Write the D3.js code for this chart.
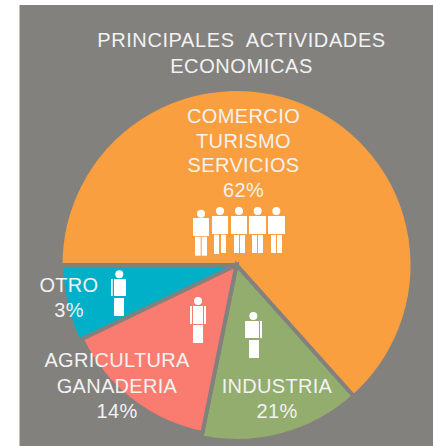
<!DOCTYPE html>
<html><head><meta charset="utf-8">
<script src="https://cdn.jsdelivr.net/npm/d3@7"></script>
<style>html,body{margin:0;background:#fff}svg{display:block}text{font-family:"Liberation Sans",Arial,sans-serif}</style>
</head><body><svg id="c" width="433" height="446"></svg>
<script>
const titleLines = ["PRINCIPALES  ACTIVIDADES", "ECONOMICAS"];
const categories = ["COMERCIO TURISMO SERVICIOS", "INDUSTRIA", "AGRICULTURA GANADERIA", "OTRO"];
const sweepShares = [63.4, 14.8, 14.7, 7.1];
const printedPercent = ["62%", "21%", "14%", "3%"];
const colors = ["#fa9f3f", "#92ad6d", "#fa7c70", "#00b0c8"];
const sliceRadii = [176, 176, 171.5, 175];

const svg = d3.select("#c");
const ink = "#f2f2f2", bg = "#83817e";
svg.append("rect").attr("x", 19.5).attr("y", 5).attr("width", 413.5).attr("height", 441).attr("fill", bg);

const cx = 236.5, cy = 265;
const pie = d3.pie().sort(null).startAngle(-Math.PI / 2).endAngle(1.5 * Math.PI).value(d => d);
const arc = d3.arc().innerRadius(0);
svg.append("g").attr("transform", `translate(${cx},${cy})`)
  .selectAll("path").data(pie(sweepShares)).join("path")
  .attr("d", (d, i) => arc.outerRadius(sliceRadii[i])(d)).attr("fill", (d, i) => colors[i])
  .attr("stroke", bg).attr("stroke-width", 4).attr("stroke-linejoin", "miter");

function label(lines, x, y0, size, spacing, dy, fill) {
  const t = svg.append("g");
  lines.forEach((s, i) => t.append("text").attr("x", x).attr("y", y0 + i * dy)
    .attr("text-anchor", "middle").attr("font-size", size)
    .attr("letter-spacing", spacing).attr("fill", fill || ink)
    .style("white-space", "pre").text(s));
}
label(titleLines, 241.5, 47, 20, 0.6, 26);
label(["COMERCIO", "TURISMO", "SERVICIOS", printedPercent[0]], 243.5, 123, 20, 0.4, 24.5);
label(["OTRO", printedPercent[3]], 69, 292, 20, 0.3, 25);
label(["AGRICULTURA", "GANADERIA", printedPercent[2]], 117, 367, 20, 0.3, 25.5);
label(["INDUSTRIA", printedPercent[1]], 277, 393, 20, 0.3, 25);

const people = [
  {h:[201,213.7],p:[[193,218,16,18],[195,236.7,5.7,19],[201.7,236.7,5.3,19]]},
  {h:[220,211],p:[[212,216,16,18],[214,234.7,5,19.3],[221,234.7,5,18.3]]},
  {h:[239,211],p:[[231,216,16,18],[234,235,5,18],[240,235,5,18]]},
  {h:[257.7,211],p:[[249,216,17,18],[252,235,5,18],[258,235,5,18]]},
  {h:[276.3,211],p:[[268,216,17,18],[271,235,5,18],[277,235,5,18]]},
  {h:[119.3,274.3],p:[[111,279,1.7,17],[114,279,12,17],[114,298,10,18]]},
  {h:[198,301],p:[[190,306,2,18],[193,306,10,18],[204,306,2,18],[193,325,10,18]]},
  {h:[253.3,316],p:[[245,321,14,17],[260,321,2,17],[249,340,10,18]]}
];
const g = svg.append("g").attr("fill", "#fff");
people.forEach(q => {
  g.append("circle").attr("cx", q.h[0]).attr("cy", q.h[1]).attr("r", 4);
  q.p.forEach(r => g.append("rect").attr("x", r[0]).attr("y", r[1]).attr("width", r[2]).attr("height", r[3]));
});
</script></body></html>
